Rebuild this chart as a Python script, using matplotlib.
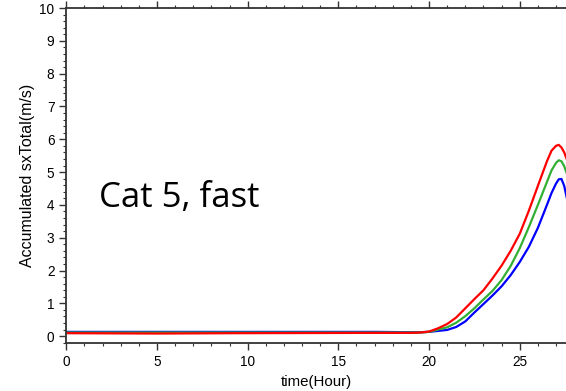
import matplotlib
matplotlib.use("Agg")
import matplotlib.pyplot as plt
from matplotlib.ticker import MultipleLocator

time_h = [0, 5, 9.2, 17, 19, 19.5, 20, 20.5, 21, 21.5, 22, 22.5, 23, 23.5, 24,
          24.5, 25, 25.5, 26, 26.5, 26.75, 27.0, 27.15, 27.3, 27.45, 27.6]
red_vals = [0.09, 0.08, 0.09, 0.1, 0.1, 0.11, 0.14, 0.24, 0.37, 0.57, 0.85, 1.13,
            1.40, 1.76, 2.15, 2.60, 3.12, 3.82, 4.58, 5.33, 5.65, 5.80, 5.83,
            5.75, 5.60, 5.38]
green_vals = [0.11, 0.11, 0.11, 0.11, 0.11, 0.11, 0.13, 0.2, 0.27, 0.41, 0.61, 0.85,
              1.12, 1.38, 1.71, 2.14, 2.68, 3.32, 4.0, 4.7, 5.05, 5.28, 5.36,
              5.33, 5.18, 4.95]
blue_vals = [0.13, 0.13, 0.13, 0.13, 0.12, 0.12, 0.13, 0.16, 0.19, 0.28, 0.45, 0.72,
             0.98, 1.24, 1.52, 1.86, 2.26, 2.72, 3.30, 4.0, 4.36, 4.65, 4.78,
             4.79, 4.58, 4.2]

plt.rcParams['font.family'] = ['Liberation Sans', 'DejaVu Sans']

fig = plt.figure(figsize=(5.66, 3.91), dpi=100)
ax = fig.add_axes([0.1171, 0.1235, 0.8829, 0.856])

for vals, col in [(blue_vals, '#0000ff'), (green_vals, '#33b033'), (red_vals, '#ff0000')]:
    ax.plot(time_h, vals, color=col, lw=1.6, solid_joinstyle='round')

ax.set_xlim(0, 27.55)
ax.set_ylim(-0.2, 10)
ax.xaxis.set_major_locator(MultipleLocator(5))
ax.xaxis.set_minor_locator(MultipleLocator(1))
ax.yaxis.set_major_locator(MultipleLocator(1))
ax.yaxis.set_minor_locator(MultipleLocator(0.2))
ax.tick_params(which='both', direction='out', top=True, right=False,
               labeltop=False, colors='#333333', labelcolor='black')
ax.tick_params(which='major', length=5, width=1, labelsize=9.8)
ax.tick_params(which='minor', length=2.5, width=0.8)
for s in ['left', 'bottom', 'top']:
    ax.spines[s].set_linewidth(1.3)
    ax.spines[s].set_color('#333333')
ax.spines['right'].set_visible(False)

ax.set_xlabel('time(Hour)', fontsize=10.8, labelpad=5)
ax.set_ylabel('Accumulated sxTotal(m/s)', fontsize=11.5, labelpad=3)

ax.text(99, 193, 'Cat 5, fast', transform=None, fontsize=25,
        family=['Open Sans', 'DejaVu Sans'], va='center', ha='left')

fig.savefig('out.png', dpi=100)
